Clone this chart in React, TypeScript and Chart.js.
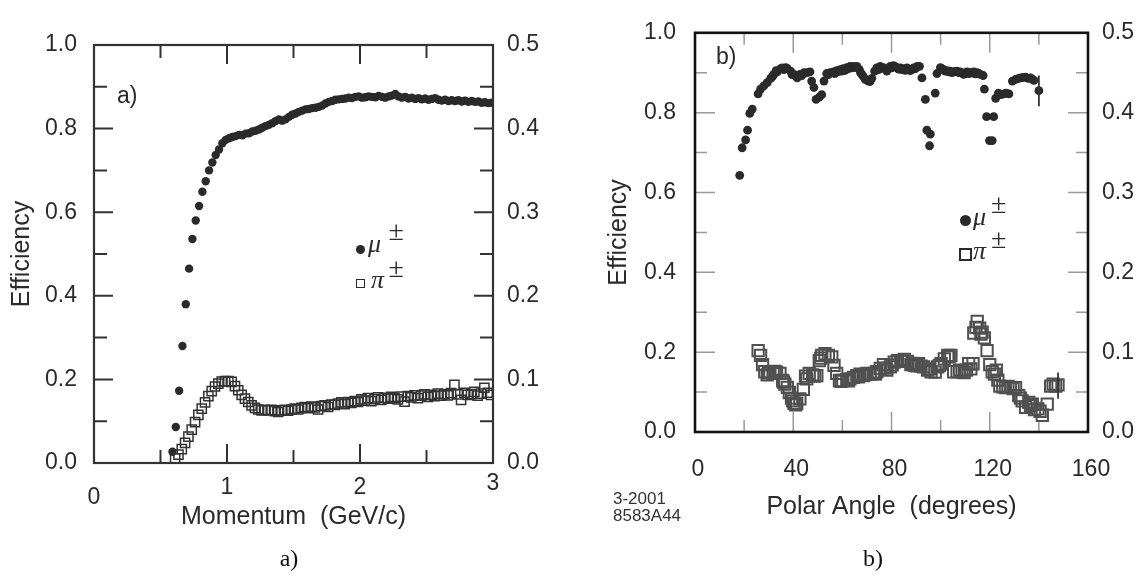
import React, { useEffect, useRef } from "react";
import { Chart, registerables } from "chart.js";
Chart.register(...registerables);

// ---------- Panel a) : efficiency vs momentum ----------
const momentumMu = [0.59,0.615,0.64,0.665,0.69,0.715,0.74,0.765,0.79,0.815,0.84,0.865,0.89,0.915,0.94,0.965,0.99,
  1.015,1.04,1.065,1.09,1.115,1.14,1.165,1.19,1.215,1.24,1.265,1.29,1.315,1.34,1.365,1.39,1.415,1.44,1.465,1.49,
  1.515,1.54,1.565,1.59,1.615,1.64,1.665,1.69,1.715,1.74,1.765,1.79,1.815,1.84,1.865,1.89,1.915,1.94,1.965,1.99,
  2.015,2.04,2.065,2.09,2.115,2.14,2.165,2.19,2.215,2.24,2.265,2.29,2.315,2.34,2.365,2.39,2.415,2.44,2.465,2.49,
  2.515,2.54,2.565,2.59,2.615,2.64,2.665,2.69,2.715,2.74,2.765,2.79,2.815,2.84,2.865,2.89,2.915,2.94,2.965,2.99];
const effMuA = [0.027,0.086,0.173,0.280,0.380,0.465,0.536,0.580,0.615,0.649,0.674,0.700,0.719,0.737,0.750,0.765,0.773,
  0.777,0.780,0.782,0.785,0.784,0.788,0.789,0.793,0.795,0.798,0.802,0.806,0.809,0.813,0.818,0.822,0.819,0.822,0.828,0.833,
  0.836,0.840,0.843,0.846,0.847,0.849,0.850,0.852,0.855,0.860,0.864,0.866,0.869,0.870,0.871,0.872,0.874,0.873,0.876,0.877,
  0.874,0.875,0.877,0.876,0.875,0.878,0.876,0.874,0.877,0.879,0.883,0.877,0.874,0.876,0.872,0.874,0.871,0.873,0.870,0.872,
  0.869,0.871,0.873,0.869,0.867,0.869,0.866,0.868,0.866,0.868,0.865,0.867,0.864,0.866,0.864,0.865,0.862,0.863,0.861,0.862];

const momentumPi = [0.61,0.635,0.66,0.685,0.71,0.735,0.76,0.785,0.81,0.835,0.86,0.885,0.91,0.935,0.96,0.985,
  1.01,1.035,1.06,1.085,1.11,1.135,1.16,1.185,1.21,1.235,1.26,1.285,1.31,1.335,1.36,1.385,1.41,1.435,1.46,1.485,
  1.51,1.535,1.56,1.585,1.61,1.635,1.66,1.685,1.71,1.735,1.76,1.785,1.81,1.835,1.86,1.885,1.91,1.935,1.96,1.985,
  2.01,2.035,2.06,2.085,2.11,2.135,2.16,2.185,2.21,2.235,2.26,2.285,2.31,2.335,2.36,2.385,2.41,2.435,2.46,2.485,
  2.51,2.535,2.56,2.585,2.61,2.635,2.66,2.685,2.71,2.735,2.76,2.785,2.81,2.835,2.86,2.885,2.91,2.935,2.96,2.985];
const effPiA = [0.011,0.020,0.033,0.048,0.063,0.080,0.098,0.115,0.130,0.145,0.160,0.172,0.183,0.190,0.195,0.196,
  0.196,0.194,0.184,0.174,0.163,0.154,0.146,0.138,0.132,0.128,0.126,0.127,0.126,0.127,0.124,0.122,0.126,0.127,0.125,0.128,
  0.130,0.128,0.132,0.134,0.131,0.135,0.133,0.128,0.136,0.138,0.134,0.140,0.139,0.142,0.145,0.141,0.146,0.144,0.148,0.146,
  0.152,0.149,0.155,0.148,0.153,0.157,0.151,0.156,0.154,0.158,0.155,0.152,0.159,0.147,0.160,0.157,0.162,0.155,0.161,0.164,
  0.158,0.163,0.160,0.166,0.161,0.165,0.162,0.167,0.187,0.164,0.151,0.168,0.163,0.165,0.170,0.161,0.166,0.180,0.168,0.163];

// ---------- Panel b) : efficiency vs polar angle ----------
const angleMu = [18.2,19.2,20.6,21.4,22.3,23.3,25.7,26.7,28.0,29.4,30.8,31.5,32.1,33.0,33.5,34.9,35.5,36.2,37.0,37.6,
  38.9,39.5,40.3,41.6,42.7,43.5,44.4,45.7,46.8,47.5,48.4,49.3,50.6,51.6,52.5,53.6,54.3,55.0,56.3,56.9,
  57.7,58.4,59.1,59.8,60.4,61.1,61.8,62.5,63.1,63.8,64.5,65.2,65.9,66.9,67.4,67.9,68.6,69.3,70.6,71.3,
  72.0,73.1,74.0,74.7,75.4,76.0,76.7,77.4,78.1,79.5,80.1,80.8,81.5,82.2,82.9,83.6,84.2,84.9,85.6,86.3,
  87.0,87.6,88.3,89.0,89.7,90.4,91.4,92.4,93.8,94.4,95.5,95.8,97.8,98.5,99.9,100.5,101.2,101.9,102.6,103.3,
  104.0,104.6,105.3,106.0,106.7,107.4,108.0,108.7,109.4,110.1,110.8,111.4,112.1,112.8,113.5,114.2,114.9,115.5,116.2,117.3,
  117.8,118.7,119.9,121.0,121.6,122.4,123.5,124.6,125.7,126.7,127.8,129.2,130.5,131.5,132.5,133.6,134.6,135.6,136.6,137.3,
  138.0,140.0];
const effMuB = [0.643,0.712,0.732,0.756,0.798,0.809,0.847,0.859,0.867,0.875,0.886,0.890,0.896,0.905,0.902,0.910,0.912,0.908,0.913,0.910,
  0.904,0.895,0.896,0.887,0.896,0.893,0.900,0.900,0.902,0.879,0.863,0.833,0.839,0.845,0.879,0.898,0.895,0.900,0.902,0.898,
  0.905,0.903,0.908,0.904,0.910,0.906,0.913,0.910,0.916,0.912,0.916,0.913,0.916,0.908,0.900,0.896,0.890,0.883,0.879,0.878,
  0.886,0.904,0.912,0.908,0.916,0.911,0.913,0.910,0.904,0.916,0.912,0.918,0.915,0.913,0.909,0.912,0.908,0.910,0.906,0.912,
  0.909,0.905,0.908,0.912,0.910,0.916,0.916,0.887,0.833,0.756,0.717,0.746,0.849,0.898,0.913,0.910,0.908,0.904,0.905,0.902,
  0.904,0.900,0.902,0.903,0.904,0.900,0.902,0.899,0.896,0.900,0.902,0.898,0.900,0.899,0.902,0.897,0.900,0.898,0.896,0.893,
  0.859,0.790,0.730,0.730,0.790,0.836,0.849,0.845,0.847,0.849,0.847,0.879,0.883,0.885,0.887,0.888,0.889,0.886,0.887,0.884,
  0.881,0.855];

const anglePi = [25.7,26.7,27.5,28.4,29.4,29.9,30.5,31.8,32.5,33.2,34.6,35.7,36.0,36.6,37.6,38.4,39.3,39.8,40.3,41.0,
  41.4,42.7,44.1,45.0,45.5,46.5,47.9,48.7,49.6,50.6,51.2,51.6,52.9,54.3,55.7,56.6,57.7,58.8,59.5,60.2,
  61.8,62.5,63.1,64.5,65.9,66.5,67.2,68.6,69.3,70.0,71.3,72.7,73.4,74.0,75.4,76.7,77.4,78.1,79.5,80.3,
  81.1,82.4,83.8,84.5,85.2,86.5,87.9,88.6,89.3,90.2,91.0,92.0,93.1,94.7,95.4,96.1,97.8,98.8,99.5,100.2,
  101.5,102.9,103.5,104.2,105.3,106.7,107.7,108.7,109.6,110.5,111.4,112.3,113.2,113.5,114.4,114.9,115.9,116.4,116.9,117.8,
  118.9,120.0,121.0,121.9,122.7,123.3,124.1,125.3,126.4,127.4,128.4,129.5,130.5,131.8,132.5,133.2,134.6,135.9,136.6,137.3,
  138.2,139.6,140.5,141.4,143.4,144.8,145.8,146.8,147.8];
const effPiB = [0.204,0.192,0.169,0.151,0.143,0.148,0.150,0.147,0.152,0.150,0.147,0.129,0.125,0.120,0.112,0.099,0.085,0.078,0.072,0.068,
  0.072,0.083,0.107,0.140,0.133,0.147,0.143,0.140,0.141,0.179,0.185,0.192,0.196,0.192,0.188,0.167,0.147,0.129,0.127,0.129,
  0.131,0.128,0.133,0.137,0.141,0.138,0.145,0.141,0.144,0.147,0.145,0.147,0.145,0.151,0.159,0.169,0.160,0.155,0.163,0.168,
  0.175,0.179,0.177,0.178,0.182,0.177,0.169,0.172,0.167,0.166,0.171,0.165,0.163,0.155,0.158,0.151,0.150,0.163,0.167,0.171,
  0.183,0.192,0.188,0.192,0.151,0.151,0.155,0.151,0.149,0.155,0.171,0.158,0.171,0.248,0.262,0.277,0.260,0.245,0.250,0.236,
  0.204,0.169,0.151,0.145,0.155,0.130,0.115,0.113,0.111,0.114,0.112,0.109,0.111,0.091,0.085,0.078,0.062,0.074,0.066,0.070,
  0.056,0.058,0.052,0.042,0.070,0.115,0.120,0.115,0.118];

// error bars (panel b)
const muErrAngle = [140.0];
const muErrLow = [0.816];
const muErrHigh = [0.893];
const piErrAngle = [147.8];
const piErrLow = [0.083];
const piErrHigh = [0.149];

// tick positions
const aXMajor = [1, 2];
const aXMinor = [0.5, 1.5, 2.5];
const bXMajor = [40, 80, 120];
const bXMinor = [20, 60, 100, 140];
const yMajor = [0.2, 0.4, 0.6, 0.8];
const yMinor = [0.1, 0.3, 0.5, 0.7, 0.9];

const SANS = "'Liberation Sans', Arial, Helvetica, sans-serif";
const SERIF = "'Liberation Serif', 'Times New Roman', serif";
const INK = "#2a2a2a";
const TICK_SIZE = 23;
const TITLE_SIZE = 25;

type FrameCfg = {
  xMajor: number[]; xMinor: number[]; yMajor: number[]; yMinor: number[];
  majorLen: number; minorLen: number; tickColor: string; tickWidth: number;
  boxColor: string; boxWidth: number;
};

function framePlugin(cfg: FrameCfg) {
  return {
    id: "frameTicks",
    beforeDatasetsDraw(chart: any) {
      const { ctx, chartArea: a, scales } = chart;
      const sx = scales.x, sy = scales.y;
      ctx.save();
      ctx.strokeStyle = cfg.tickColor;
      ctx.lineWidth = cfg.tickWidth;
      ctx.beginPath();
      const xt = (vals: number[], len: number) => {
        for (const v of vals) {
          const px = sx.getPixelForValue(v);
          ctx.moveTo(px, a.bottom); ctx.lineTo(px, a.bottom - len);
          ctx.moveTo(px, a.top); ctx.lineTo(px, a.top + len);
        }
      };
      const yt = (vals: number[], len: number) => {
        for (const v of vals) {
          const py = sy.getPixelForValue(v);
          ctx.moveTo(a.left, py); ctx.lineTo(a.left + len, py);
          ctx.moveTo(a.right, py); ctx.lineTo(a.right - len, py);
        }
      };
      xt(cfg.xMajor, cfg.majorLen); xt(cfg.xMinor, cfg.minorLen);
      yt(cfg.yMajor, cfg.majorLen); yt(cfg.yMinor, cfg.minorLen);
      ctx.stroke();
      ctx.restore();
    },
    afterDatasetsDraw(chart: any) {
      const { ctx, chartArea: a } = chart;
      ctx.save();
      ctx.strokeStyle = cfg.boxColor;
      ctx.lineWidth = cfg.boxWidth;
      ctx.strokeRect(a.left, a.top, a.right - a.left, a.bottom - a.top);
      ctx.restore();
    },
  };
}

function errorBarPlugin(xs: number[][], lows: number[][], highs: number[][], color: string) {
  return {
    id: "errorBars",
    afterDatasetsDraw(chart: any) {
      const { ctx, scales } = chart;
      ctx.save();
      ctx.strokeStyle = color;
      ctx.lineWidth = 1.8;
      ctx.beginPath();
      xs.forEach((arr, k) => {
        arr.forEach((x, i) => {
          const px = scales.x.getPixelForValue(x);
          ctx.moveTo(px, scales.y.getPixelForValue(lows[k][i]));
          ctx.lineTo(px, scales.y.getPixelForValue(highs[k][i]));
        });
      });
      ctx.stroke();
      ctx.restore();
    },
  };
}

const fmt1 = (v: any) => Number(v).toFixed(1);

function makeConfig(opts: {
  muX: number[]; muY: number[]; piX: number[]; piY: number[];
  xMax: number; xStep: number; xTitle: string;
  topPad: number; leftW: number; rightW: number; bottomH: number;
  xTickPad: number; xFont: any; xLabelOffset: number; xTitlePad: number;
  yTickPad: number; y2TickPad: number; yTitlePad: number;
  dotR: number; sqR: number; sqColor: string; sqWidth: number;
  plugins: any[];
}): any {
  const none = { display: false, drawTicks: false };
  return {
    type: "scatter",
    data: {
      datasets: [
        {
          label: "mu",
          data: opts.muX.map((x, i) => ({ x, y: opts.muY[i] })),
          pointStyle: "circle",
          pointRadius: opts.dotR,
          pointHoverRadius: opts.dotR,
          backgroundColor: INK,
          borderColor: INK,
          borderWidth: 0,
        },
        {
          label: "pi",
          data: opts.piX.map((x, i) => ({ x, y: opts.piY[i] })),
          pointStyle: "rect",
          pointRadius: opts.sqR,
          pointHoverRadius: opts.sqR,
          backgroundColor: "rgba(0,0,0,0)",
          borderColor: opts.sqColor,
          borderWidth: opts.sqWidth,
        },
      ],
    },
    options: {
      responsive: false,
      animation: false,
      devicePixelRatio: 1,
      events: [],
      layout: { padding: { top: opts.topPad, left: 0, right: 0, bottom: 0 } },
      plugins: { legend: { display: false }, tooltip: { enabled: false } },
      scales: {
        x: {
          type: "linear", position: "bottom", min: 0, max: opts.xMax,
          grid: none, border: { display: false },
          ticks: {
            stepSize: opts.xStep, padding: opts.xTickPad, color: INK, font: opts.xFont,
            maxRotation: 0, autoSkip: false, labelOffset: opts.xLabelOffset,
          },
          title: {
            display: true, text: opts.xTitle, color: INK,
            font: { family: SANS, size: TITLE_SIZE }, padding: { top: 0, bottom: opts.xTitlePad },
          },
          afterFit: (s: any) => { s.height = opts.bottomH; },
        },
        y: {
          type: "linear", position: "left", min: 0, max: 1,
          grid: none, border: { display: false },
          ticks: { stepSize: 0.2, padding: opts.yTickPad, color: INK, font: { family: SANS, size: TICK_SIZE }, callback: fmt1 },
          title: {
            display: true, text: "Efficiency", color: INK,
            font: { family: SANS, size: TITLE_SIZE }, padding: { top: opts.yTitlePad, bottom: 0 },
          },
          afterFit: (s: any) => { s.width = opts.leftW; },
        },
        y2: {
          type: "linear", position: "right", min: 0, max: 0.5,
          grid: none, border: { display: false },
          ticks: { stepSize: 0.1, padding: opts.y2TickPad, color: INK, font: { family: SANS, size: TICK_SIZE }, callback: fmt1 },
          afterFit: (s: any) => { s.width = opts.rightW; },
        },
      },
    },
    plugins: opts.plugins,
  };
}

const abs = (s: React.CSSProperties): React.CSSProperties => ({ position: "absolute", ...s });

type LegendProps = {
  x: number; dot: number; sq: number; dotCy: number; sqCy: number; sqBorder: number;
  muLeft: number; muTop: number; muPmTop: number;
  piLeft: number; piTop: number; piPmTop: number; pmLeft: number;
};

function Legend(p: LegendProps) {
  const greek: React.CSSProperties = { fontFamily: SERIF, fontStyle: "italic", fontSize: 26, lineHeight: 1, color: INK, whiteSpace: "nowrap" };
  const pm: React.CSSProperties = { fontFamily: SERIF, fontSize: 28, lineHeight: 1, color: INK };
  return (
    <>
      <div style={abs({ left: p.x - p.dot / 2, top: p.dotCy - p.dot / 2, width: p.dot, height: p.dot, borderRadius: "50%", background: INK })} />
      <div style={abs({ left: p.muLeft, top: p.muTop, ...greek })}>μ</div>
      <div style={abs({ left: p.pmLeft, top: p.muPmTop, ...pm })}>±</div>
      <div style={abs({ left: p.x - p.sq / 2, top: p.sqCy - p.sq / 2, width: p.sq, height: p.sq, boxSizing: "border-box", border: `${p.sqBorder}px solid ${INK}` })} />
      <div style={abs({ left: p.piLeft, top: p.piTop, ...greek })}>π</div>
      <div style={abs({ left: p.pmLeft, top: p.piPmTop, ...pm })}>±</div>
    </>
  );
}

export default function App() {
  const refA = useRef<HTMLCanvasElement>(null);
  const refB = useRef<HTMLCanvasElement>(null);

  useEffect(() => {
    const fontA = (c: any) => {
      const v = c && c.tick ? c.tick.value : 1;
      return { family: SANS, size: TICK_SIZE, lineHeight: v === 0 ? "46px" : v === 3 ? "17px" : "26px" };
    };
    const chartA = new Chart(refA.current as HTMLCanvasElement, makeConfig({
      muX: momentumMu, muY: effMuA, piX: momentumPi, piY: effPiA,
      xMax: 3, xStep: 1, xTitle: "Momentum  (GeV/c)",
      topPad: 45, leftW: 94, rightW: 77, bottomH: 116,
      xTickPad: 11.8, xFont: fontA, xLabelOffset: 0, xTitlePad: 47,
      yTickPad: 17, y2TickPad: 14, yTitlePad: 6.8,
      dotR: 4.2, sqR: 6.5, sqColor: "#333333", sqWidth: 1.5,
      plugins: [framePlugin({
        xMajor: aXMajor, xMinor: aXMinor, yMajor, yMinor,
        majorLen: 19, minorLen: 13, tickColor: "#333333", tickWidth: 2,
        boxColor: "#333333", boxWidth: 2.2,
      })],
    }));
    const chartB = new Chart(refB.current as HTMLCanvasElement, makeConfig({
      muX: angleMu, muY: effMuB, piX: anglePi, piY: effPiB,
      xMax: 160, xStep: 40, xTitle: "Polar Angle  (degrees)",
      topPad: 20, leftW: 125, rightW: 51, bottomH: 147,
      xTickPad: 24.8, xFont: { family: SANS, size: TICK_SIZE, lineHeight: "26px" }, xLabelOffset: 3, xTitlePad: 57,
      yTickPad: 19, y2TickPad: 14, yTitlePad: 34,
      dotR: 4.4, sqR: 8, sqColor: "#505050", sqWidth: 2,
      plugins: [
        framePlugin({
          xMajor: bXMajor, xMinor: bXMinor, yMajor, yMinor,
          majorLen: 20, minorLen: 12, tickColor: "#9a9a9a", tickWidth: 1.5,
          boxColor: "#111111", boxWidth: 2.6,
        }),
        errorBarPlugin([muErrAngle, piErrAngle], [muErrLow, piErrLow], [muErrHigh, piErrHigh], "#333333"),
      ],
    }));
    return () => { chartA.destroy(); chartB.destroy(); };
  }, []);

  const label: React.CSSProperties = { fontFamily: SANS, fontSize: 23, lineHeight: 1, color: INK };
  const caption: React.CSSProperties = { fontFamily: SERIF, fontSize: 24, lineHeight: 1, color: "#111", width: 100, textAlign: "center" };

  return (
    <div style={abs({ left: 0, top: 0, width: 1139, height: 579, background: "#fff", overflow: "hidden" })}>
      <canvas ref={refA} width={570} height={579} style={abs({ left: 0, top: 0, width: 570, height: 579 })} />
      <canvas ref={refB} width={569} height={579} style={abs({ left: 570, top: 0, width: 569, height: 579 })} />

      <div style={abs({ left: 117, top: 83.5, ...label })}>a)</div>
      <div style={abs({ left: 716, top: 44.8, ...label })}>b)</div>

      <Legend x={360} dot={9} sq={9} dotCy={249.2} sqCy={283.6} sqBorder={1.5}
        muLeft={368} muTop={231.2} muPmTop={217.3}
        piLeft={371} piTop={266.8} piPmTop={254.4} pmLeft={388.5} />
      <Legend x={965} dot={11} sq={13} dotCy={220.3} sqCy={254.6} sqBorder={2}
        muLeft={973} muTop={204.2} muPmTop={190.2}
        piLeft={973} piTop={237.8} piPmTop={225.3} pmLeft={991} />

      <div style={abs({ left: 613, top: 489.7, fontFamily: SANS, fontSize: 17, lineHeight: "17px", color: "#333" })}>
        3-2001<br />8583A44
      </div>

      <div style={abs({ left: 239, top: 546, ...caption })}>a)</div>
      <div style={abs({ left: 823, top: 546, ...caption })}>b)</div>
    </div>
  );
}
